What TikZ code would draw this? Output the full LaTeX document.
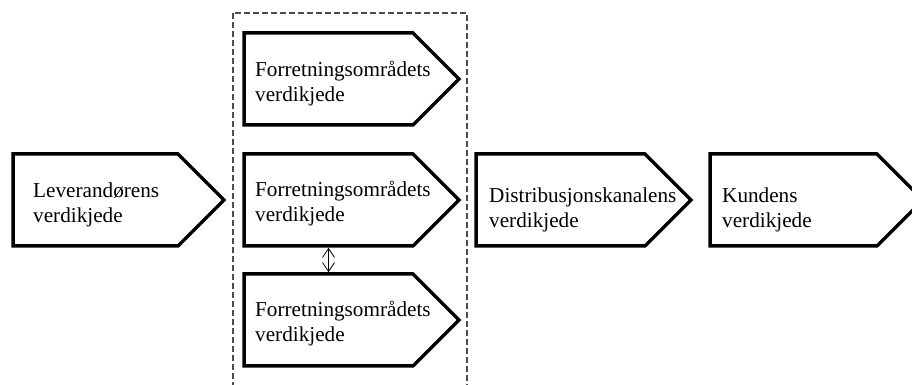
\documentclass[tikz,border=0pt]{standalone}
\usepackage{fontspec}
\setmainfont{Liberation Serif}
\usetikzlibrary{arrows.meta,calc}
\begin{document}
\begin{tikzpicture}[x=1pt,y=1pt,
  area/.style={inner sep=0pt, outer sep=0pt, minimum height=92pt},
  pent/.style={line width=3.5pt, line join=miter},
  lbl/.style={anchor=base west, align=left, inner sep=0pt, font=\fontsize{21.2}{25.5}\selectfont},
  frame/.style={draw=black!70, line width=1.1pt, dash pattern=on 6pt off 3pt},
  link/.style={line width=0.8pt, {Straight Barb[length=9pt,width=12pt]}-{Straight Barb[length=9pt,width=12pt]}}
]
\useasboundingbox (0,0) rectangle (912,385);
\clip (0,0) rectangle (912,385);
\fill[white] (0,0) rectangle (912,385);

% dashed frame
\draw[frame] (233,372) rectangle (467,-10);

% box areas (rectangular parts)
\node[area, minimum width=165pt] (lev)  at (95.5,185) {};
\node[area, minimum width=169pt] (top)  at (328.5,306) {};
\node[area, minimum width=169pt] (mid)  at (328.5,185) {};
\node[area, minimum width=169pt] (bot)  at (328.5,65) {};
\node[area, minimum width=169pt] (dist) at (560.5,185) {};
\node[area, minimum width=167pt] (kund) at (793.5,185) {};

\foreach \b in {lev,top,mid,bot,dist,kund}{
  \draw[pent] (\b.north west) -- (\b.north east) -- ($(\b.east)+(46,0)$)
    -- (\b.south east) -- (\b.south west) -- cycle;
}

% labels (anchor = baseline of last line)
\node[lbl] (levt)  at (33,162)  {Leverandørens\\verdikjede};
\node[lbl] (topt)  at (255,283) {Forretningsområdets\\verdikjede};
\node[lbl] (midt)  at (255,163) {Forretningsområdets\\verdikjede};
\node[lbl] (bott)  at (255,43)  {Forretningsområdets\\verdikjede};
\node[lbl] (distt) at (489,157) {Distribusjonskanalens\\verdikjede};
\node[lbl] (kundt) at (722,157) {Kundens\\verdikjede};

% double arrow
\draw[link] ([yshift=-1.75pt]mid.south) -- ([yshift=1.75pt]bot.north);
\end{tikzpicture}
\end{document}
